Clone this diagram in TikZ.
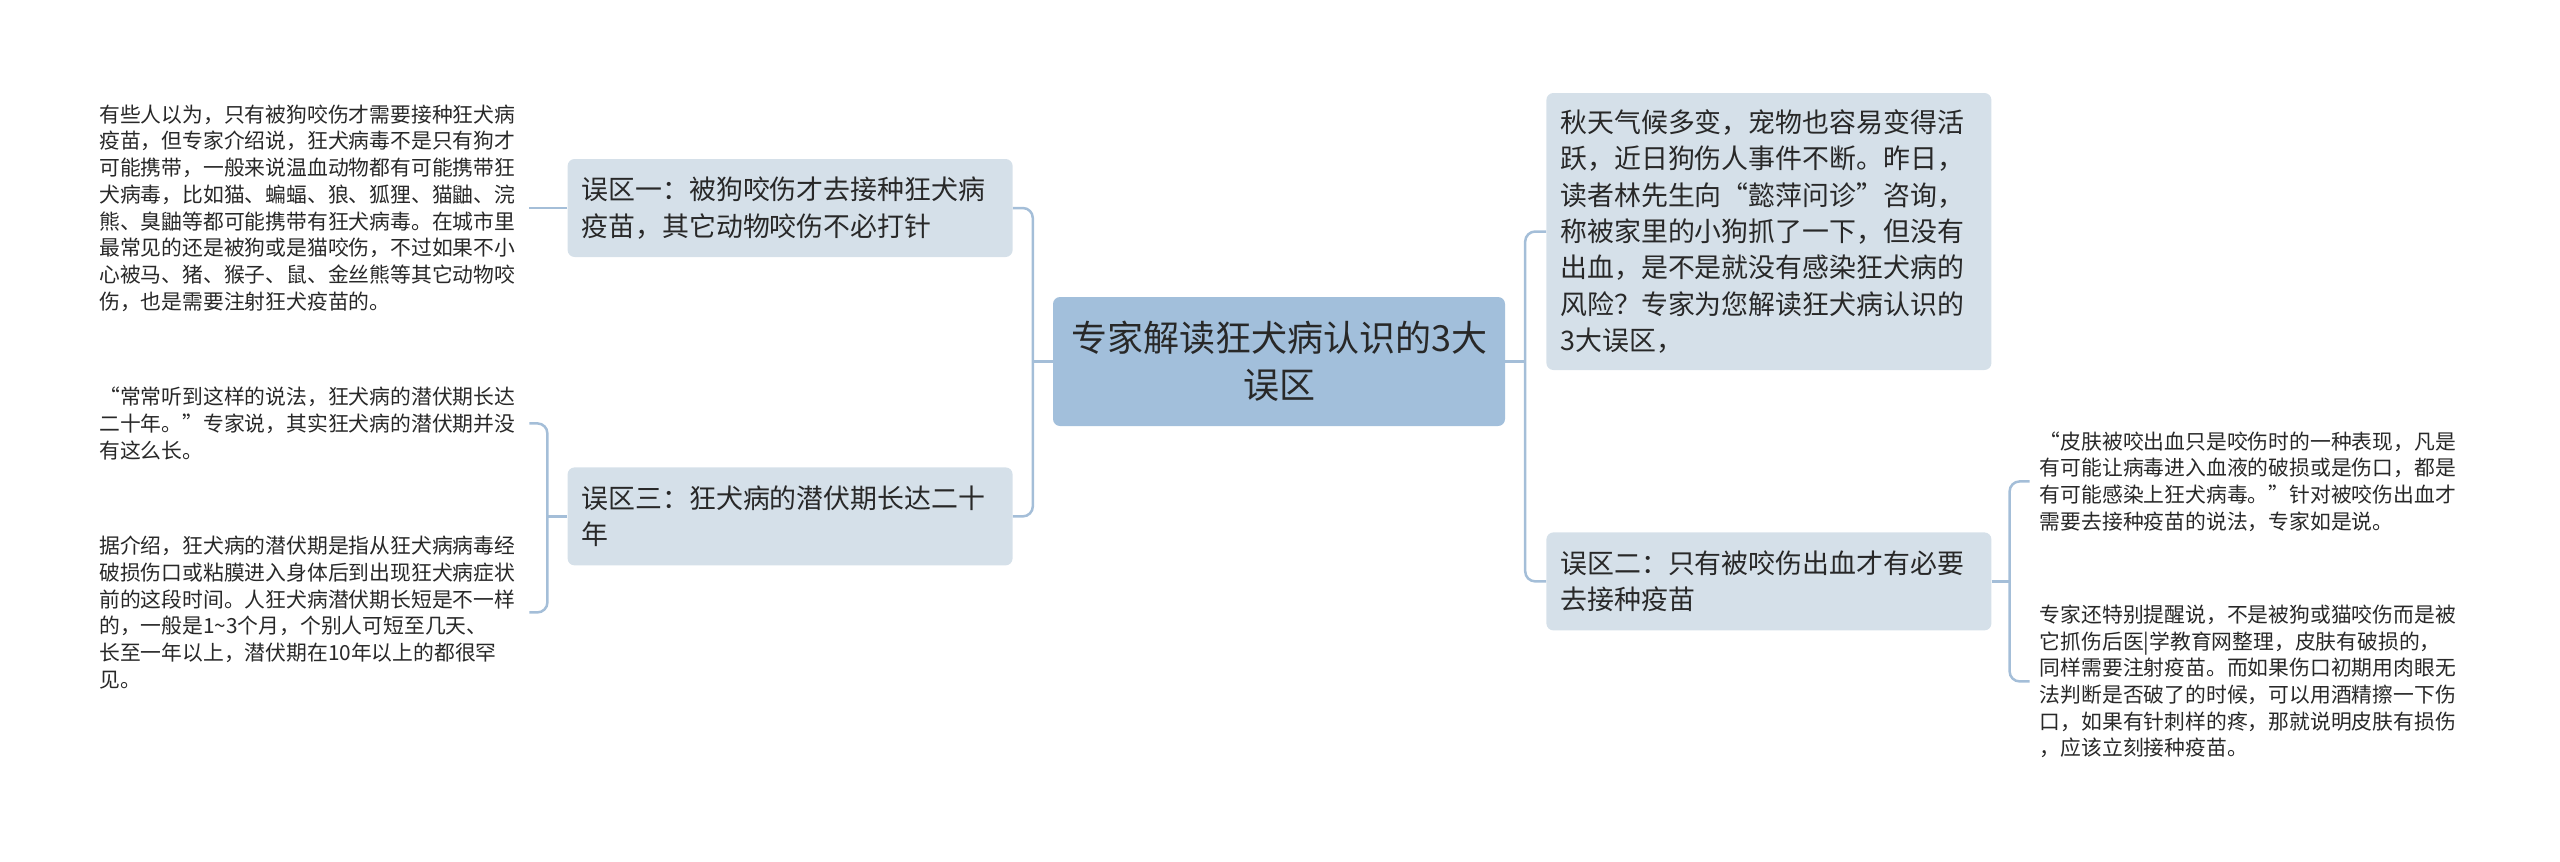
\documentclass[tikz,border=0pt]{standalone}
\usepackage{fontspec}
\setmainfont{Noto Sans CJK SC}
\usepackage{tikz}
\usetikzlibrary{positioning}
\definecolor{rootblue}{RGB}{162,191,219}
\definecolor{boxgrey}{RGB}{213,224,233}
\definecolor{linkblue}{RGB}{164,190,216}
\definecolor{inkgrey}{RGB}{40,40,40}

\begin{document}
\begin{tikzpicture}[x=1pt, y=1pt,
    rootbox/.style={rectangle, fill=rootblue, rounded corners=7pt,
        minimum width=452pt, minimum height=129pt, align=center,
        text=inkgrey, font=\fontsize{36}{47}\selectfont},
    mistake/.style={rectangle, fill=boxgrey, rounded corners=7pt,
        text width=417pt, inner xsep=14pt, inner ysep=12pt, minimum height=98pt,
        align=left, text=inkgrey, font=\fontsize{26.9}{36.3}\selectfont},
    leaf/.style={rectangle, text width=420pt, inner xsep=10pt, align=left,
        text=inkgrey, font=\fontsize{20.8}{26.7}\selectfont},
    link/.style={draw=linkblue, line width=2.5pt, rounded corners=10pt}
]
\useasboundingbox (0,0) rectangle (2560,-862);

\node[rootbox] (root) at (1279,-361.5) {专家解读狂犬病认识的3大\\误区};

\node[mistake, left=40pt of root, yshift=153.5pt] (m1) {误区一：被狗咬伤才去接种狂犬病\\疫苗，其它动物咬伤不必打针};
\node[mistake, below=210pt of m1] (m3) {误区三：狂犬病的潜伏期长达二十\\年};
\node[mistake, right=41pt of root, yshift=130pt, minimum height=277pt] (intro) {秋天气候多变，宠物也容易变得活\\跃，近日狗伤人事件不断。昨日，\\读者林先生向“懿萍问诊”咨询，\\称被家里的小狗抓了一下，但没有\\出血，是不是就没有感染狂犬病的\\风险？专家为您解读狂犬病认识的\\3大误区，};
\node[mistake, below=162pt of intro] (m2) {误区二：只有被咬伤出血才有必要\\去接种疫苗};

\node[leaf, left=38pt of m1] (leaf1) {有些人以为，只有被狗咬伤才需要接种狂犬病\\疫苗，但专家介绍说，狂犬病毒不是只有狗才\\可能携带，一般来说温血动物都有可能携带狂\\犬病毒，比如猫、蝙蝠、狼、狐狸、猫鼬、浣\\熊、臭鼬等都可能携带有狂犬病毒。在城市里\\最常见的还是被狗或是猫咬伤，不过如果不小\\心被马、猪、猴子、鼠、金丝熊等其它动物咬\\伤，也是需要注射狂犬疫苗的。};
\node[leaf, left=38pt of m3, yshift=93pt] (leaf3a) {“常常听到这样的说法，狂犬病的潜伏期长达\\二十年。”专家说，其实狂犬病的潜伏期并没\\有这么长。};
\node[leaf, left=38pt of m3, yshift=-96pt] (leaf3b) {据介绍，狂犬病的潜伏期是指从狂犬病病毒经\\破损伤口或粘膜进入身体后到出现狂犬病症状\\前的这段时间。人狂犬病潜伏期长短是不一样\\的，一般是1\textasciitilde3个月，个别人可短至几天、\\长至一年以上，潜伏期在10年以上的都很罕\\见。};
\node[leaf, right=38pt of m2, yshift=100pt] (leaf2a) {“皮肤被咬出血只是咬伤时的一种表现，凡是\\有可能让病毒进入血液的破损或是伤口，都是\\有可能感染上狂犬病毒。”针对被咬伤出血才\\需要去接种疫苗的说法，专家如是说。};
\node[leaf, right=38pt of m2, yshift=-100pt] (leaf2b) {专家还特别提醒说，不是被狗或猫咬伤而是被\\它抓伤后医|学教育网整理，皮肤有破损的，\\同样需要注射疫苗。而如果伤口初期用肉眼无\\法判断是否破了的时候，可以用酒精擦一下伤\\口，如果有针刺样的疼，那就说明皮肤有损伤\\，应该立刻接种疫苗。};

\coordinate (jl) at ([xshift=-20pt]root.west);
\coordinate (jr) at ([xshift=20pt]root.east);
\coordinate (b3) at ([xshift=-20pt]m3.west);
\coordinate (b2) at ([xshift=18pt]m2.east);

\draw[link] (root.west) -- (jl);
\draw[link] (m1.east) -| (jl) |- (m3.east);
\draw[link] (root.east) -- (jr);
\draw[link] (intro.west) -| (jr) |- (m2.west);

\draw[link] (m1.west) -- (leaf1.east);
\draw[link] (m3.west) -- (b3);
\draw[link] (leaf3a.east) -| (b3) |- (leaf3b.east);
\draw[link] (m2.east) -- (b2);
\draw[link] (leaf2a.west) -| (b2) |- (leaf2b.west);
\end{tikzpicture}
\end{document}
